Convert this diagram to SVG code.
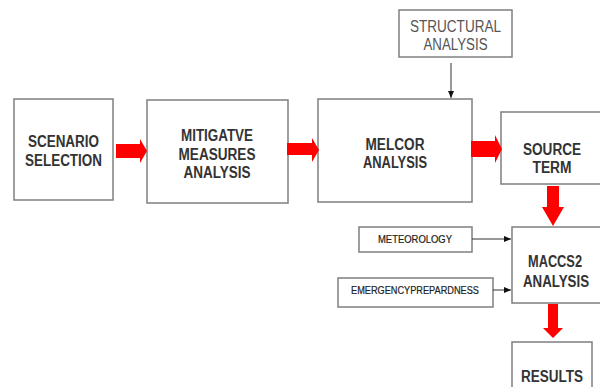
<svg xmlns="http://www.w3.org/2000/svg" width="600" height="387" viewBox="0 0 600 387">
<style>
.box{fill:#fff;stroke:#7f7f7f;stroke-width:1.5}
.t{font-family:"Liberation Sans",Arial,sans-serif;font-weight:bold;font-size:16px;fill:#333;text-anchor:middle}
.tn{font-family:"Liberation Sans",Arial,sans-serif;font-size:16px;fill:#555;text-anchor:middle}
.ts{font-family:"Liberation Sans",Arial,sans-serif;font-size:10px;fill:#222;text-anchor:middle;stroke:#222;stroke-width:0.2}
.big{fill:#ff0000}
.thin{stroke:#333;stroke-width:1;fill:none}
</style>
<defs>
<marker id="ah" markerWidth="8" markerHeight="8" refX="7" refY="4" orient="auto" markerUnits="userSpaceOnUse">
<path d="M0,1 L7,4 L0,7 Z" fill="#111"/>
</marker>
</defs>
<rect width="600" height="387" fill="#fff"/>
<g id="scenario">
<rect class="box" x="14" y="99" width="99" height="101"/>
<text class="t" x="63.5" y="147" textLength="71" lengthAdjust="spacingAndGlyphs">SCENARIO</text>
<text class="t" x="63.5" y="166" textLength="77" lengthAdjust="spacingAndGlyphs">SELECTION</text>
</g>
<g id="mitigative">
<rect class="box" x="147" y="100" width="141" height="103"/>
<text class="t" x="217" y="141" textLength="72" lengthAdjust="spacingAndGlyphs">MITIGATVE</text>
<text class="t" x="217" y="160" textLength="77" lengthAdjust="spacingAndGlyphs">MEASURES</text>
<text class="t" x="217" y="178" textLength="67" lengthAdjust="spacingAndGlyphs">ANALYSIS</text>
</g>
<g id="melcor">
<rect class="box" x="318" y="99" width="154" height="103"/>
<text class="t" x="395" y="150" textLength="59" lengthAdjust="spacingAndGlyphs">MELCOR</text>
<text class="t" x="395" y="168" textLength="64" lengthAdjust="spacingAndGlyphs">ANALYSIS</text>
</g>
<g id="structural">
<rect class="box" x="399" y="10" width="113" height="47"/>
<text class="tn" x="455.5" y="32" textLength="91" lengthAdjust="spacingAndGlyphs">STRUCTURAL</text>
<text class="tn" x="455.5" y="50" textLength="64" lengthAdjust="spacingAndGlyphs">ANALYSIS</text>
</g>
<g id="source">
<rect class="box" x="501" y="112" width="101" height="72"/>
<text class="t" x="552" y="155" textLength="58" lengthAdjust="spacingAndGlyphs">SOURCE</text>
<text class="t" x="552" y="173" textLength="39" lengthAdjust="spacingAndGlyphs">TERM</text>
</g>
<g id="maccs2">
<rect class="box" x="512" y="227" width="90" height="76"/>
<text class="t" x="555" y="267" textLength="54" lengthAdjust="spacingAndGlyphs">MACCS2</text>
<text class="t" x="556" y="287" textLength="66" lengthAdjust="spacingAndGlyphs">ANALYSIS</text>
</g>
<g id="meteorology">
<rect class="box" x="359" y="227" width="113" height="25"/>
<text class="ts" x="415" y="243" textLength="74" lengthAdjust="spacingAndGlyphs">METEOROLOGY</text>
</g>
<g id="emergency">
<rect class="box" x="338" y="278" width="155" height="29"/>
<text class="ts" x="415" y="294" textLength="128" lengthAdjust="spacingAndGlyphs">EMERGENCYPREPARDNESS</text>
</g>
<g id="results">
<rect class="box" x="512" y="342" width="80" height="60"/>
<text class="t" x="552" y="382" textLength="62" lengthAdjust="spacingAndGlyphs">RESULTS</text>
</g>
<g id="connectors">
<path class="big" d="M116,144 L140,144 L140,139 L147,151 L140,163 L140,158 L116,158 Z"/>
<path class="big" d="M287,143 L312,143 L312,138 L319,150 L312,162 L312,155 L287,155 Z"/>
<path class="big" d="M471,141 L495,141 L495,135 L502,149 L495,163 L495,157 L471,157 Z"/>
<path class="big" d="M547,186 L559,186 L559,207 L564,207 L553,226 L542,207 L547,207 Z"/>
<path class="big" d="M548,304 L558,304 L558,328 L563,328 L553,338 L543,328 L548,328 Z"/>
<line class="thin" x1="451" y1="63" x2="451" y2="98" marker-end="url(#ah)"/>
<line class="thin" x1="472" y1="239" x2="511" y2="239" marker-end="url(#ah)"/>
<line class="thin" x1="493" y1="290" x2="511" y2="290" marker-end="url(#ah)"/>
</g>
</svg>
